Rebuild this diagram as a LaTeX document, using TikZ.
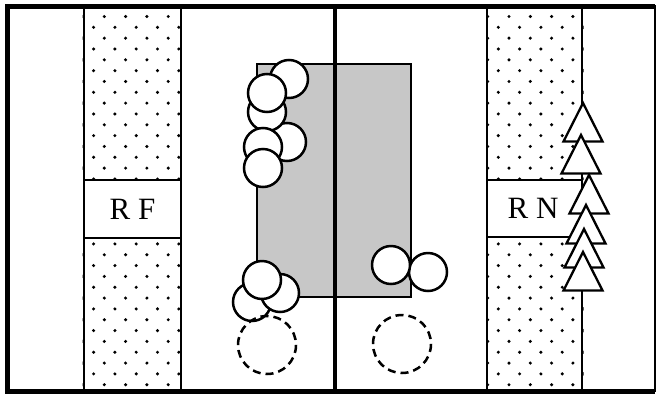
\documentclass[tikz,border=0pt]{standalone}
\usepackage{fontspec}
\setmainfont{Liberation Serif}
\begin{document}
\begin{tikzpicture}[x=1pt, y=-1pt,
  ball/.style={draw, fill=white, line width=2.5pt},
  ghost/.style={draw, dash pattern=on 8pt off 5pt, line width=2.5pt},
  tree/.style={draw, fill=white, line width=2.3pt, line join=miter},
  strip/.style={draw, line width=2.2pt},
  tag/.style={font=\fontsize{31}{31}\selectfont}]
  \useasboundingbox (0,0) rectangle (660,394);
  \fill[white] (0,0) rectangle (660,394);

  % dotted strips
  \foreach \xa/\xb/\ja/\jb in {84/181/-1/5, 487/582/17/23} {
    \begin{scope}
      \clip (\xa-1.5,8) rectangle (\xb+1.5,180) (\xa-1.5,238) rectangle (\xb+1.5,390);
      \foreach \k in {0,...,35} {
        \pgfmathsetmacro\yy{16.5+10.83*\k}
        \pgfmathsetmacro\xs{mod(\k,2)==1 ? 93.6 : 104.3}
        \foreach \j in {\ja,...,\jb}
          \fill (\xs+21.3*\j, \yy) circle (1.7);
      }
    \end{scope}
  }
  \node[tag] (rf) at (132.5,209) {R F};
  \node[tag] (rn) at (533,208.5) {R N};

  % gray block and divider
  \filldraw[fill=black!22, line width=1.8pt] (257,64) rectangle (411,297);
  \draw[line width=4pt] (335,6) -- (335,391);

  % strip borders
  \draw[strip] (84,6) -- (84,391) (181,6) -- (181,391) (84,180) -- (181,180) (84,238) -- (181,238);
  \draw[strip] (487,6) -- (487,391) (582,6) -- (582,391) (487,180) -- (582,180) (487,237) -- (582,237);

  % frame
  \draw[line width=2.5pt] (7,6) rectangle (655,391);
  \draw[line width=5pt, line join=miter] (655,6) -- (7,6) -- (7,391) -- (655,391);

  % upper left cluster
  \draw[ball] (287,142) circle (19);
  \draw[ball] (289,79) circle (19);
  \draw[ball] (267,112) circle (19);
  \draw[ball] (267,93) circle (19);
  \draw[ball] (263,147) circle (19);
  \draw[ball] (263,168) circle (19);

  % lower left cluster
  \draw[ball] (252,302) circle (19);
  \draw[ball] (280,293) circle (19);
  \draw[ball] (262,280) circle (19);
  \draw[ghost] (267,345) circle (29);

  % right pair
  \draw[ball] (428,272) circle (19);
  \draw[ball] (391,265) circle (19);
  \draw[ghost] (402,344) circle (29);

  % triangles
  \foreach \ax/\ay in {583/103, 581/135, 589/175, 586/205, 584/229, 583/252}
    \draw[tree] (\ax,\ay) -- (\ax+19.5,\ay+38.5) -- (\ax-19.5,\ay+38.5) -- cycle;
\end{tikzpicture}
\end{document}
